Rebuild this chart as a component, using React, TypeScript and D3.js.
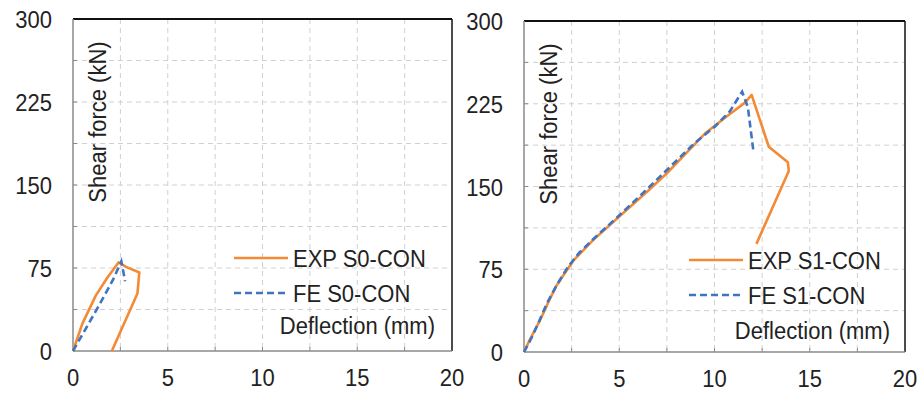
import React from "react";
import * as d3 from "d3";

// ---- Data ----
const xTicks = [0, 5, 10, 15, 20];
const yTicks = [0, 75, 150, 225, 300];
const xGrid = [2.5, 5, 7.5, 10, 12.5, 15, 17.5];
const yGrid = [37.5, 75, 112.5, 150, 187.5, 225, 262.5];

const expS0: [number, number][] = [
  [0, 0], [0.5, 25], [1.2, 50], [1.8, 66], [2.4, 80], [2.8, 76], [3.5, 71], [3.4, 52], [2.05, 0],
];
const feS0: [number, number][] = [
  [0, 0], [0.6, 18], [1.4, 42], [2.1, 64], [2.55, 81], [2.75, 63],
];
const expS1: [number, number][] = [
  [0, 0], [0.3, 11], [0.85, 29], [1.3, 46], [1.7, 60], [2.2, 73], [2.6, 83], [3.6, 101],
  [4.5, 115], [5.4, 129], [6.5, 146], [7.5, 162], [8.5, 180], [9.5, 198], [10.6, 213],
  [11.6, 226], [11.95, 233], [12.85, 186], [13.85, 172], [13.9, 164], [12.2, 98],
];
const feS1: [number, number][] = [
  [0, 0], [0.4, 13], [0.8, 28], [1.2, 44], [1.7, 60], [2.3, 77], [2.9, 90], [3.8, 105],
  [4.7, 119], [6.0, 140], [7.5, 165], [9.0, 190], [10.0, 204], [10.8, 218],
  [11.45, 236], [11.75, 222], [12.05, 181],
];

const expLabels = ["EXP S0-CON", "EXP S1-CON"];
const feLabels = ["FE S0-CON", "FE S1-CON"];
const yTitle = "Shear force (kN)";
const xTitle = "Deflection (mm)";

const ORANGE = "#F28A36";
const BLUE = "#3E74C2";
const FONT = "'Liberation Sans', Arial, sans-serif";
const SY = 1.12;

function T(props: { x: number; y: number; anchor?: string; rotate?: number; children: React.ReactNode }) {
  const r = props.rotate ? ` rotate(${props.rotate})` : "";
  return (
    <text transform={`translate(${props.x},${props.y})${r} scale(1,${SY})`} textAnchor={props.anchor || "start"} fontSize={22}>
      {props.children}
    </text>
  );
}

interface PanelProps {
  left: number; top: number; right: number; bottom: number;
  exp: [number, number][]; fe: [number, number][];
  expLabel: string; feLabel: string;
  legendX: number; legendY: number; xTitleRight: number; xTitleY: number;
}

function Panel(p: PanelProps) {
  const x = d3.scaleLinear().domain([0, 20]).range([p.left, p.right]);
  const y = d3.scaleLinear().domain([0, 300]).range([p.bottom, p.top]);
  const line = d3.line<[number, number]>().x(d => x(d[0])).y(d => y(d[1]));
  return (
    <g fontFamily={FONT} fill="#222">
      {xGrid.map(v => (
        <line key={"gx" + v} x1={x(v)} x2={x(v)} y1={p.top} y2={p.bottom} stroke="#d0d0d0" strokeWidth={1} strokeDasharray="5,4" />
      ))}
      {yGrid.map(v => (
        <line key={"gy" + v} x1={p.left} x2={p.right} y1={y(v)} y2={y(v)} stroke="#d0d0d0" strokeWidth={1} strokeDasharray="5,4" />
      ))}
      <line x1={p.left} x2={p.right} y1={p.top} y2={p.top} stroke="#111" strokeWidth={2} />
      <line x1={p.right} x2={p.right} y1={p.top} y2={p.bottom} stroke="#111" strokeWidth={1.5} />
      <line x1={p.left} x2={p.left} y1={p.top} y2={p.bottom} stroke="#8a8a8a" strokeWidth={1.5} />
      <line x1={p.left} x2={p.right} y1={p.bottom} y2={p.bottom} stroke="#8a8a8a" strokeWidth={1.5} />
      {xGrid.map(v => (
        <line key={"tx" + v} x1={x(v)} x2={x(v)} y1={p.bottom} y2={p.bottom - 4} stroke="#8a8a8a" strokeWidth={1} />
      ))}
      {yGrid.map(v => (
        <line key={"ty" + v} x1={p.left} x2={p.left + 4} y1={y(v)} y2={y(v)} stroke="#8a8a8a" strokeWidth={1} />
      ))}
      {xTicks.map(v => (
        <T key={"xt" + v} x={x(v)} y={p.bottom + 35} anchor="middle">{v}</T>
      ))}
      {yTicks.map(v => (
        <T key={"yt" + v} x={p.left - 21} y={y(v) + 9} anchor="end">{v}</T>
      ))}
      <T x={p.left + 33} y={p.top + 103} rotate={-90} anchor="middle">{yTitle}</T>
      <path d={line(p.exp) || ""} fill="none" stroke={ORANGE} strokeWidth={2.6} strokeLinejoin="round" />
      <path d={line(p.fe) || ""} fill="none" stroke={BLUE} strokeWidth={2.6} strokeDasharray="7,4" />
      <line x1={p.legendX} x2={p.legendX + 54} y1={p.legendY} y2={p.legendY} stroke={ORANGE} strokeWidth={2.6} />
      <T x={p.legendX + 59} y={p.legendY + 9}>{p.expLabel}</T>
      <line x1={p.legendX} x2={p.legendX + 54} y1={p.legendY + 35} y2={p.legendY + 35} stroke={BLUE} strokeWidth={2.6} strokeDasharray="7,4" />
      <T x={p.legendX + 59} y={p.legendY + 44}>{p.feLabel}</T>
      <T x={p.xTitleRight} y={p.xTitleY} anchor="end">{xTitle}</T>
    </g>
  );
}

export default function App() {
  return (
    <svg width={920} height={393} style={{ position: "absolute", left: 0, top: 0, background: "#fff" }}>
      <rect width={920} height={393} fill="#fff" />
      <Panel left={73} top={19} right={452} bottom={351} exp={expS0} fe={feS0}
        expLabel={expLabels[0]} feLabel={feLabels[0]} legendX={234} legendY={258}
        xTitleRight={435} xTitleY={334} />
      <Panel left={524} top={21} right={905} bottom={352} exp={expS1} fe={feS1}
        expLabel={expLabels[1]} feLabel={feLabels[1]} legendX={689} legendY={260}
        xTitleRight={890} xTitleY={339} />
    </svg>
  );
}
